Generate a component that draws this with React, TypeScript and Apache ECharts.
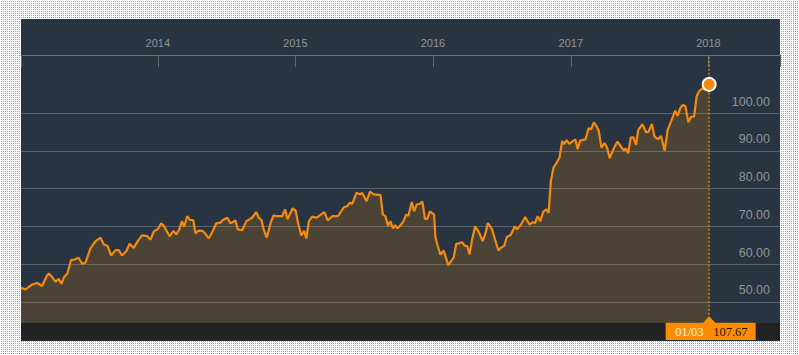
import React, { useEffect, useRef } from 'react';
import * as echarts from 'echarts';

const dates: string[] = [
  '2013-01-03','2013-01-15','2013-02-02','2013-02-15','2013-02-28','2013-03-12','2013-03-18','2013-03-27',
  '2013-04-05','2013-04-13','2013-04-20','2013-04-27','2013-05-06','2013-05-16','2013-05-25','2013-06-05',
  '2013-06-14','2013-06-23','2013-07-06','2013-07-20','2013-08-02','2013-08-11','2013-08-21','2013-08-30',
  '2013-09-11','2013-09-19','2013-09-28','2013-10-10','2013-10-18','2013-10-29','2013-11-09','2013-11-20',
  '2013-12-04','2013-12-13','2013-12-21',
  '2014-01-02','2014-01-10','2014-01-17','2014-02-01','2014-02-12','2014-02-19','2014-02-27','2014-03-06',
  '2014-03-12','2014-03-20','2014-03-27','2014-04-05','2014-04-11','2014-04-19','2014-04-30','2014-05-07',
  '2014-05-16','2014-05-27','2014-06-05','2014-06-16','2014-06-23','2014-07-04','2014-07-13','2014-07-26',
  '2014-08-01','2014-08-13','2014-08-24','2014-09-08','2014-09-19','2014-09-26','2014-10-03','2014-10-09',
  '2014-10-17','2014-10-27','2014-11-04','2014-11-14','2014-11-27','2014-12-05','2014-12-11','2014-12-25',
  '2015-01-02','2015-01-09','2015-01-17','2015-01-24','2015-01-30','2015-02-06','2015-02-15','2015-02-27',
  '2015-03-13','2015-03-19','2015-03-28','2015-04-09','2015-04-24','2015-05-10','2015-05-19','2015-05-26',
  '2015-06-01','2015-06-12','2015-06-21','2015-06-27','2015-07-09','2015-07-18','2015-07-28','2015-08-15',
  '2015-08-21','2015-08-28','2015-09-04','2015-09-10','2015-09-17','2015-09-23','2015-09-29','2015-10-07',
  '2015-10-15','2015-10-22','2015-10-28','2015-11-06','2015-11-12','2015-11-19','2015-11-28','2015-12-04',
  '2015-12-11','2015-12-17','2015-12-24',
  '2016-01-04','2016-01-08','2016-01-14','2016-01-21','2016-01-30','2016-02-05','2016-02-11','2016-02-18',
  '2016-02-25','2016-03-03','2016-03-10','2016-03-19','2016-03-25','2016-04-01','2016-04-07','2016-04-14',
  '2016-04-22','2016-05-02','2016-05-12','2016-05-19','2016-05-26','2016-06-06','2016-06-14','2016-06-23',
  '2016-07-01','2016-07-08','2016-07-15','2016-07-26','2016-08-05','2016-08-11','2016-08-22','2016-09-02',
  '2016-09-13','2016-09-22','2016-09-28','2016-10-05','2016-10-12','2016-10-20','2016-10-28','2016-11-03',
  '2016-11-09','2016-11-16','2016-11-25','2016-12-02','2016-12-09','2016-12-14','2016-12-21','2016-12-28',
  '2017-01-04','2017-01-13','2017-01-19','2017-01-26','2017-02-09','2017-02-17','2017-02-24','2017-03-03',
  '2017-03-10','2017-03-16','2017-03-23','2017-03-31','2017-04-07','2017-04-14','2017-04-25','2017-05-05',
  '2017-05-15','2017-05-22','2017-05-26','2017-06-02','2017-06-09','2017-06-16','2017-06-23','2017-06-29',
  '2017-07-10','2017-07-20','2017-07-26','2017-08-04','2017-08-11','2017-08-21','2017-08-28','2017-09-01',
  '2017-09-07','2017-09-15','2017-09-25','2017-10-05','2017-10-11','2017-10-18','2017-10-25','2017-11-01',
  '2017-11-09','2017-11-16','2017-11-24','2017-12-01','2017-12-08','2017-12-15','2017-12-22',
  '2018-01-03',
];

const values: number[] = [
  53.7, 53.3, 54.6, 55.0, 54.2, 56.8, 57.5, 56.5,
  55.3, 56.1, 54.8, 56.5, 57.5, 61.1, 61.2, 61.7,
  60.1, 60.4, 64.1, 66.1, 67.0, 65.2, 64.8, 62.3,
  63.7, 63.7, 62.3, 63.5, 65.4, 64.3, 66.1, 67.6,
  67.4, 66.5, 68.6,
  69.4, 70.8, 70.2, 67.4, 68.8, 67.9, 69.2, 71.4,
  69.9, 72.7, 71.7, 71.7, 68.1, 68.9, 68.8, 68.1,
  66.8, 68.8, 70.8, 71.0, 71.7, 72.3, 70.8, 71.6,
  69.2, 69.0, 71.4, 72.3, 73.8, 72.3, 71.7, 69.2,
  67.0, 70.8, 72.9, 72.7, 72.7, 74.5, 71.9, 74.8,
  74.1, 70.5, 67.6, 68.8, 66.8, 71.4, 72.6, 72.3,
  73.4, 73.8, 71.6, 72.7, 72.7, 75.1, 75.4, 76.3,
  76.0, 78.9, 78.5, 78.9, 76.7, 79.2, 78.5, 78.3,
  73.2, 72.7, 70.1, 71.4, 69.5, 70.3, 69.5, 70.3,
  71.4, 73.1, 72.8, 76.5, 74.0, 75.8, 76.0, 76.6,
  72.0, 72.0, 74.0,
  73.1, 67.0, 64.8, 62.5, 63.6, 61.5, 59.7, 60.8,
  61.7, 65.4, 65.5, 65.8, 64.9, 64.8, 62.6, 66.5,
  70.0, 68.5, 66.1, 68.0, 70.9, 69.2, 66.5, 63.6,
  64.5, 64.8, 67.2, 67.8, 70.0, 69.2, 70.5, 72.5,
  70.5, 71.1, 70.9, 72.7, 71.4, 73.9, 74.5, 73.6,
  82.0, 85.6, 87.0, 88.3, 92.7, 91.8, 92.9, 91.9,
  92.5, 93.1, 90.5, 92.8, 93.1, 96.0, 95.8, 97.6,
  96.6, 95.4, 90.9, 92.1, 91.0, 88.1, 90.7, 92.5,
  91.0, 90.1, 90.7, 89.4, 93.6, 93.6, 91.6, 95.6,
  97.1, 94.9, 95.1, 97.2, 93.8, 93.1, 94.0, 92.5,
  90.1, 95.6, 98.1, 100.7, 99.3, 101.3, 102.2, 101.9,
  97.6, 99.1, 99.1, 104.6, 105.9, 106.6, 106.3,
  107.67,
];

const xTickDates = ['2013-01-03', '2014-01-01', '2015-01-01', '2016-01-01', '2017-01-01', '2018-01-01', '2018-07-10'];
const xLabelDates = ['2014-01-01', '2015-01-01', '2016-01-01', '2017-01-01', '2018-01-01'];
const yTicks = [50, 60, 70, 80, 90, 100];
const yMin = 44.46;
const yMax = 115.46;
const lastDate = '2018-01-03';
const lastValue = 107.67;
const lastLabel = '01/03';

const ORANGE = '#f68a0e';
const ts = (d: string) => +echarts.time.parse(d);

const DOTS =
  "url(\"data:image/svg+xml;utf8,<svg xmlns='http://www.w3.org/2000/svg' width='2' height='2' shape-rendering='crispEdges'><rect width='2' height='2' fill='%23ffffff'/><rect x='1' y='1' width='1' height='1' fill='%23ec9440'/></svg>\")";

export default function App() {
  const ref = useRef<HTMLDivElement>(null);

  useEffect(() => {
    const chart = echarts.init(ref.current!, null, { renderer: 'svg' });
    const seriesData = dates.map((d, i) => [ts(d), values[i]]);
    const xTicks = xTickDates.map(ts);
    const xLabels = xLabelDates.map(ts);
    chart.setOption({
      animation: false,
      grid: { left: 21, right: 19, top: 55, bottom: 32.3 },
      xAxis: {
        type: 'value',
        position: 'top',
        min: xTicks[0],
        max: xTicks[xTicks.length - 1],
        axisLine: { show: true, lineStyle: { color: '#6a7179', width: 1 } },
        axisTick: {
          show: true,
          inside: true,
          length: 12,
          customValues: xTicks,
          lineStyle: { color: '#5f666e', width: 1 },
        },
        axisLabel: {
          customValues: xLabels,
          formatter: (v: number) => String(new Date(v).getFullYear()),
          color: '#8e949b',
          fontSize: 11,
          fontFamily: '"Liberation Sans", Arial, sans-serif',
          margin: 7,
        },
        splitLine: { show: false },
      },
      yAxis: {
        type: 'value',
        position: 'right',
        min: yMin,
        max: yMax,
        axisLine: { show: false },
        axisTick: { show: false, customValues: yTicks },
        axisLabel: {
          customValues: yTicks,
          inside: true,
          margin: 10,
          formatter: (v: number) => v.toFixed(2),
          color: '#8f959b',
          fontSize: 12.5,
          fontFamily: '"Liberation Sans", Arial, sans-serif',
          verticalAlign: 'bottom',
          padding: [0, 0, 5, 0],
        },
        splitLine: { show: true, lineStyle: { color: 'rgba(255,255,255,0.24)', width: 1 } },
      },
      series: [
        {
          type: 'line',
          data: seriesData,
          showSymbol: false,
          silent: true,
          lineStyle: { color: ORANGE, width: 2.2 },
          itemStyle: { color: ORANGE },
          areaStyle: { color: 'rgba(240,138,0,0.18)', opacity: 1 },
          markLine: {
            silent: true,
            symbol: 'none',
            label: { show: false },
            lineStyle: { color: '#cf8a16', type: [2, 2], width: 1.5 },
            data: [{ xAxis: ts(lastDate) }],
          },
          markPoint: {
            silent: true,
            symbol: 'circle',
            symbolSize: 13,
            itemStyle: { color: ORANGE, borderColor: '#ffffff', borderWidth: 2 },
            label: { show: false },
            data: [{ coord: [ts(lastDate), lastValue] }],
          },
        },
      ],
    });

    const pt = chart.convertToPixel({ gridIndex: 0 }, [ts(lastDate), yMin]) as number[];
    const px = pt[0];
    const bandTop = pt[1];
    chart.setOption({
      graphic: [
        {
          type: 'polygon',
          z: 100,
          shape: { points: [[px - 6.5, bandTop + 0.5], [px, bandTop - 6.5], [px + 6.5, bandTop + 0.5]] },
          style: { fill: '#ff8c00' },
        },
        {
          type: 'rect',
          z: 100,
          shape: { x: px - 43.5, y: bandTop, width: 90, height: 17.3 },
          style: { fill: '#ff8c00' },
        },
        {
          type: 'text',
          z: 101,
          x: px - 34,
          y: bandTop + 9,
          style: {
            text: lastLabel,
            fill: '#fff4e6',
            font: '12.5px "Liberation Serif", "Times New Roman", serif',
            verticalAlign: 'middle',
            align: 'left',
          },
        },
        {
          type: 'text',
          z: 101,
          x: px + 4,
          y: bandTop + 9,
          style: {
            text: lastValue.toFixed(2),
            fill: '#111111',
            font: '12.5px "Liberation Serif", "Times New Roman", serif',
            verticalAlign: 'middle',
            align: 'left',
          },
        },
      ],
    });

    return () => chart.dispose();
  }, []);

  return (
    <div
      style={{
        position: 'absolute',
        left: 0,
        top: 0,
        width: 799,
        height: 355,
        backgroundColor: '#ffffff',
        backgroundImage: DOTS,
        backgroundSize: '2px 2px',
      }}
    >
      <div style={{ position: 'absolute', left: 21, top: 19, width: 759, height: 321.5, background: '#283441' }} />
      <div style={{ position: 'absolute', left: 21, top: 322.7, width: 759, height: 17.8, background: '#222222' }} />
      <div ref={ref} style={{ position: 'absolute', left: 0, top: 0, width: 799, height: 355 }} />
    </div>
  );
}
